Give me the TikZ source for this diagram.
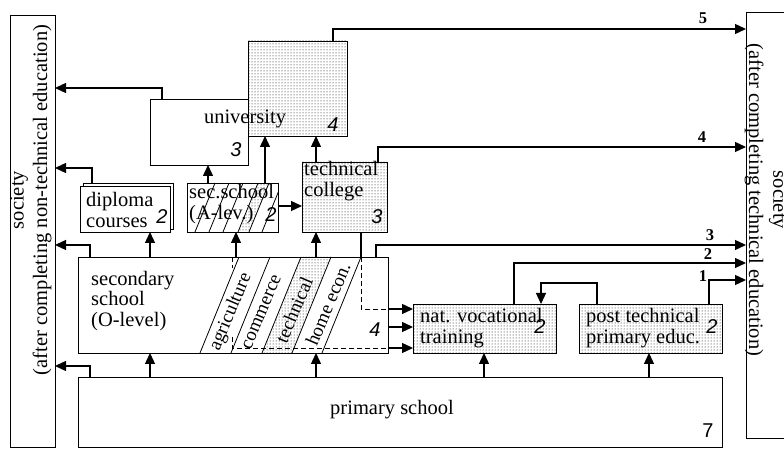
\documentclass[tikz,border=0pt]{standalone}
\usepackage{fontspec}
\setmainfont{Liberation Serif}
\newfontfamily\numfont{Liberation Sans}
\usetikzlibrary{arrows.meta,patterns,calc}
\begin{document}
\begin{tikzpicture}[x=1pt,y=1pt,
  box/.style={draw, line width=0.9pt, inner sep=0pt, outer sep=0pt, anchor=south west},
  dotbox/.style={box, preaction={fill=white}, pattern=dots, pattern color=black},
  arr/.style={line width=1.3pt, -{Triangle[length=11pt,width=10pt]}},
  ln/.style={line width=1.3pt},
  dsh/.style={line width=0.9pt, dash pattern=on 5pt off 3pt},
  txt/.style={font=\fontsize{20.5}{20.5}\selectfont, align=left, inner sep=0pt},
  stxt/.style={txt, rotate=67, font=\fontsize{19}{19}\selectfont},
  num/.style={font=\fontsize{20}{20}\numfont\itshape, inner sep=0pt},
  lab/.style={font=\fontsize{16.5}{16.5}\selectfont\bfseries, inner sep=0pt}
]
\useasboundingbox (0,0) rectangle (784,449);
\clip (0,0) rectangle (784,449);

% society boxes
\node[box, minimum width=45pt, minimum height=432pt] (socL) at (10,1.5) {};
\node[box, minimum width=60pt, minimum height=426pt] (socR) at (746,11) {};
\node[txt, rotate=90] (socLa) at (19,249) {society};
\node[txt, rotate=90] (socLb) at (42,249) {(after completing non-technical education)};
\node[txt, rotate=-90] (socRb) at (754,249) {(after completing technical education)};
\node[txt, rotate=-90] (socRa) at (778,249) {society};

% boxes
\node[box, minimum width=644pt, minimum height=70pt] (prim) at (78,2) {};
\node[box, minimum width=310pt, minimum height=96pt] (sec) at (78,96) {};
\node[dotbox, minimum width=143pt, minimum height=49pt] (natvoc) at (413,96) {};
\node[dotbox, minimum width=143pt, minimum height=49pt] (post) at (579,96) {};
\node[box, minimum width=90pt, minimum height=46pt] (dipB) at (83,220) {};
\node[box, fill=white, minimum width=90pt, minimum height=46pt] (dipF) at (80,217) {};
\node[box, minimum width=91pt, minimum height=49pt] (secA) at (187,217) {};
\node[dotbox, minimum width=85pt, minimum height=70pt] (tech) at (302,217) {};
\node[box, fill=white, minimum width=98pt, minimum height=66pt] (univ) at (150,284) {};
\node[dotbox, minimum width=99pt, minimum height=95pt] (box4) at (248,313) {};

% hatching of sec.school (A-lev.)
\begin{scope}
  \clip (secA.south west) rectangle (secA.north east);
  \fill[pattern=dots, pattern color=black] (238,217) -- (258,266) -- (269,266) -- (249,217) -- cycle;
  \foreach \b in {195,209,223,238,249,262}
    \draw[line width=0.8pt] (\b,217) -- ({\b+20},266);
\end{scope}

% streams in secondary school
\fill[pattern=dots, pattern color=black] (262,96) -- (301,192) -- (331,192) -- (292,96) -- cycle;
\foreach \b in {200,231,262,292,322}
  \draw[line width=0.8pt] (\b,96) -- ({\b+39},192);
\node[stxt] (agri) at (231,137) {agriculture};
\node[stxt] (comm) at (262,137) {commerce};
\node[stxt] (techn) at (294,139) {technical};
\node[stxt] (home) at (328,145) {home econ.};

% texts
\node[txt, anchor=base] (univT) at (245,325) {university};
\node[num] (univN) at (236,299) {3};
\node[num] (box4N) at (333,324) {4};
\node[txt, anchor=west] (dipT) at (86,239) {diploma\\courses};
\node[num] (dipN) at (162,232) {2};
\node[txt, anchor=west] (secAT) at (189,245) {sec.school\\(A-lev.)};
\node[num] (secAN) at (271,234) {2};
\node[txt, anchor=west] (techT) at (304,268) {technical\\college};
\node[num] (techN) at (377,232) {3};
\node[txt, anchor=west] (secT) at (91,148) {secondary\\school\\(O-level)};
\node[num] (secN) at (375,119) {4};
\node[txt, anchor=west] (natT) at (420,121) {nat. vocational\\training};
\node[num] (natN) at (540,122) {2};
\node[txt, anchor=west] (postT) at (586,121) {post technical\\primary educ.};
\node[num] (postN) at (712,122) {2};
\node[txt, anchor=base] (primT) at (392,34) {primary school};
\node[num, font=\fontsize{20}{20}\numfont] (primN) at (708,18) {7};

% arrows to left society
\draw[arr] ([xshift=12pt]univ.north west) |- (socL.east |- 0,361);
\draw[arr] ([xshift=9pt]dipB.north west) |- (socL.east |- 0,281);
\draw[arr] ([xshift=12pt]sec.north west) |- (socL.east |- 0,204);
\draw[arr] ([xshift=12pt]prim.north west) |- (socL.east |- 0,83);

% upward arrows
\draw[arr] (prim.north -| 150,0) -- (sec.south -| 150,0);
\draw[arr] (prim.north -| 316,0) -- (sec.south -| 316,0);
\draw[arr] (prim.north -| 484,0) -- (natvoc.south -| 484,0);
\draw[arr] (prim.north -| 649,0) -- (post.south -| 649,0);
\draw[arr] (sec.north -| 150,0) -- (dipF.south -| 150,0);
\draw[arr] (sec.north -| 236,0) -- (secA.south -| 236,0);
\draw[arr] (sec.north -| 316,0) -- (tech.south -| 316,0);
\draw[arr] (secA.north -| 208,0) -- (univ.south -| 208,0);
\draw[arr] (secA.north -| 265,0) -- (box4.south -| 265,0);
\draw[arr] (tech.north -| 316,0) -- (box4.south -| 316,0);
\draw[arr] (secA.east |- 0,243) -- (tech.west |- 0,243);

% arrows to right society
\draw[arr] (box4.north -| 333,0) |- (socR.west |- 0,420);
\draw[arr] (tech.north -| 378,0) |- (socR.west |- 0,302);
\draw[arr] (sec.north -| 376,0) |- (socR.west |- 0,204);
\draw[arr] (natvoc.north -| 514,0) |- (socR.west |- 0,186);
\draw[arr] (post.north -| 709,0) |- (socR.west |- 0,169);
\node[lab] (l5) at (703,431) {5};
\node[lab] (l4) at (702,312) {4};
\node[lab] (l3) at (710,214) {3};
\node[lab] (l2) at (708,195) {2};
\node[lab] (l1) at (703,173) {1};

% post technical -> nat. vocational
\coordinate (pc) at (597,166);
\draw[arr] (post.north -| pc) -- (pc) -| (natvoc.north -| 541,0);

% technical college -> nat. vocational (via secondary)
\draw[ln] (tech.south -| 361,0) -- (sec.north -| 361,0);
\draw[dsh] (sec.north -| 361,0) -- (361,140) -- (sec.east |- 0,140);
\draw[arr] (sec.east |- 0,140) -- (natvoc.west |- 0,140);
\draw[arr] (sec.east |- 0,122) -- (natvoc.west |- 0,122);
\draw[dsh] (sec.north -| 232,0) -- (232,181);
\draw[dsh] (232,112) -- (232,101) -- (sec.east |- 0,101);
\draw[arr] (sec.east |- 0,101) -- (natvoc.west |- 0,101);
\end{tikzpicture}
\end{document}
